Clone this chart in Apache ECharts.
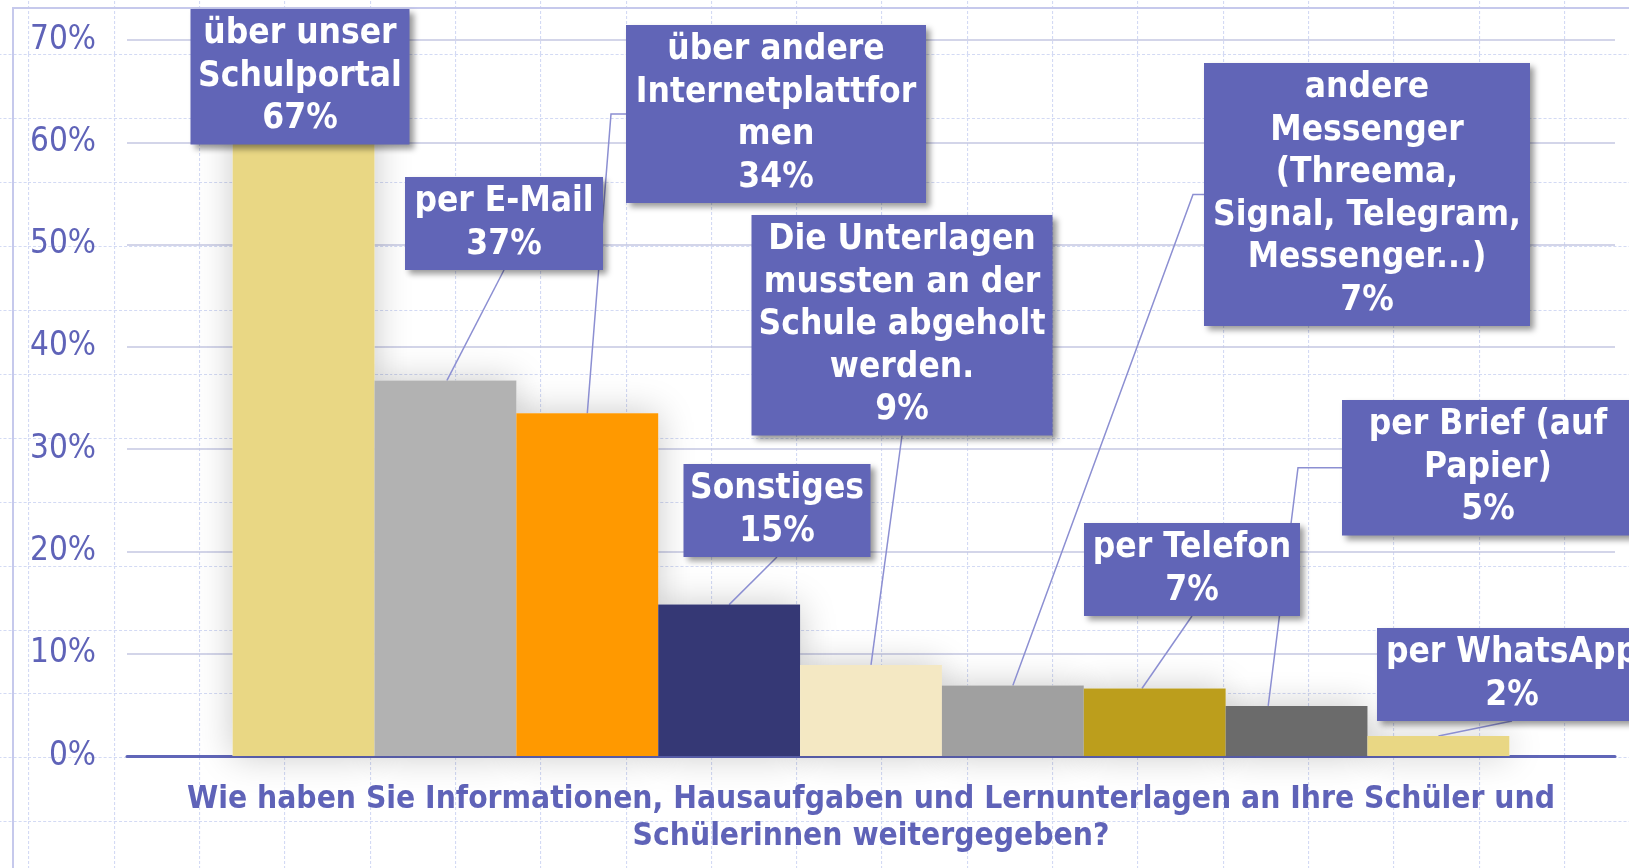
<!DOCTYPE html>
<html>
<head>
<meta charset="utf-8">
<script src="https://cdn.jsdelivr.net/npm/echarts@6/dist/echarts.min.js"></script>
<style>
html, body {
    margin: 0;
    padding: 0;
    width: 1629px;
    height: 868px;
    overflow: hidden;
    background-color: #ffffff;
}
.page {
    position: relative;
    width: 1629px;
    height: 868px;
    background-image: url("data:image/svg+xml;utf8,<svg xmlns='http://www.w3.org/2000/svg' width='85.3' height='63.9'><path d='M0 0.5 H85.3 M0.5 0 V63.9' stroke='%23d3daf4' stroke-width='1.2' stroke-dasharray='3 2' fill='none'/></svg>");
    background-size: 85.3px 63.9px;
    background-position: 28.5px 54.5px;
}
.frame {
    position: absolute;
    left: 12px;
    top: 7px;
    width: 1700px;
    height: 900px;
    border-left: 2px solid #c6c9ec;
    border-top: 2px solid #c6c9ec;
}
#chart {
    position: absolute;
    left: 0;
    top: 0;
    width: 1629px;
    height: 868px;
}
</style>
</head>
<body>
<div class="page">
    <div class="frame"></div>
    <div id="chart"></div>
</div>
<script>
// one category, one bar per answer
const categories = ['Wie haben Sie Informationen, Hausaufgaben und Lernunterlagen an Ihre Schüler und\nSchülerinnen weitergegeben?']
const seriesNames = [
    'über unser\nSchulportal',
    'per E-Mail',
    'über andere\nInternetplattfor\nmen',
    'Sonstiges',
    'Die Unterlagen\nmussten an der\nSchule abgeholt\nwerden.',
    'andere\nMessenger\n(Threema,\nSignal, Telegram,\nMessenger...)',
    'per Telefon',
    'per Brief (auf\nPapier)',
    'per WhatsApp'
]
const seriesValues = [0.67, 0.367, 0.335, 0.148, 0.089, 0.069, 0.066, 0.049, 0.0195]
const seriesColors = ['#e9d784', '#b2b2b2', '#ff9900', '#353875', '#f4e8c3', '#a0a0a0', '#bc9e1c', '#6b6b6b', '#e9d784']

// callout boxes: centre x, top y, box width, stub length
const labelBoxes = [
    [300, 9, 219, 0],
    [504, 177, 198, 0],
    [776, 25, 300, 15],
    [777, 464, 187, 0],
    [902, 215, 301, 0],
    [1367, 63, 326, 11],
    [1192, 523, 216, 0],
    [1488, 400, 292, 44],
    [1512, 628, 270, 0]
]
// leader line: where it leaves the bar top (share of bar width), which side of the box it enters
const connectors = [
    null,
    [0.51, 'bottom'],
    [0.5, 'left'],
    [0.5, 'bottom'],
    [0.5, 'bottom'],
    [0.5, 'left'],
    [0.41, 'bottom'],
    [0.3, 'left'],
    [0.5, 'bottom']
]

const fontName = '"DejaVu Sans Condensed", "DejaVu Sans", sans-serif'
const purple = '#5f63b8'
const boxLineHeight = 42.5
const boxPadV = 4

let chart = echarts.init(document.getElementById('chart'))

let series = []
// soft shadow layer behind all bars
for (let i = 0; i < seriesValues.length; i++) {
    series.push({
        type: 'bar',
        xAxisIndex: 1,
        silent: true,
        z: 1,
        barGap: '0%',
        barCategoryGap: '14.2%',
        data: [seriesValues[i]],
        itemStyle: {
            color: '#ffffff',
            shadowBlur: 34,
            shadowColor: 'rgba(0, 0, 0, 0.22)'
        }
    })
}
for (let i = 0; i < seriesValues.length; i++) {
    let box = labelBoxes[i]
    series.push({
        type: 'bar',
        name: seriesNames[i],
        xAxisIndex: 0,
        z: 3,
        barGap: '0%',
        barCategoryGap: '14.2%',
        data: [seriesValues[i]],
        itemStyle: {
            color: seriesColors[i]
        },
        label: {
            show: true,
            formatter: seriesNames[i] + '\n' + Math.round(seriesValues[i] * 100) + '%',
            color: '#ffffff',
            fontFamily: fontName,
            fontWeight: 'bold',
            fontSize: 35,
            lineHeight: boxLineHeight,
            align: 'center',
            width: box[2] - 12,
            padding: [boxPadV, 6],
            backgroundColor: '#6165b7',
            shadowColor: 'rgba(0, 0, 0, 0.4)',
            shadowBlur: 6,
            shadowOffsetX: 4,
            shadowOffsetY: 4
        },
        labelLayout: {
            x: box[0],
            y: box[1],
            align: 'center',
            verticalAlign: 'top'
        }
    })
}

let option = {
    animation: false,
    grid: {
        left: 127,
        right: 14,
        top: 40,
        bottom: 112
    },
    xAxis: [
        {
            type: 'category',
            data: categories,
            axisLine: {
                lineStyle: { color: '#6066b8', width: 3 }
            },
            axisTick: { show: false },
            axisLabel: {
                interval: 0,
                margin: 26,
                color: purple,
                fontFamily: fontName,
                fontWeight: 'bold',
                fontSize: 31.5,
                lineHeight: 36.5
            }
        },
        {
            type: 'category',
            data: categories,
            show: false
        }
    ],
    yAxis: {
        type: 'value',
        min: 0,
        max: 0.7,
        interval: 0.1,
        axisLine: { show: false },
        axisTick: { show: false },
        axisLabel: {
            margin: 31,
            padding: [9, 0, 0, 0],
            color: purple,
            fontFamily: fontName,
            fontSize: 33,
            formatter: (v) => Math.round(v * 100) + '%'
        },
        splitLine: {
            lineStyle: { color: '#c4c7e2', width: 1.5 }
        }
    },
    series: series
}
chart.setOption(option)

// leader lines from the bar tops (as laid out by echarts) to the callout boxes
let leaderLines = []
for (let i = 0; i < seriesValues.length; i++) {
    let conn = connectors[i]
    if (!conn) {
        continue
    }
    let layout = chart.getModel().getSeriesByIndex(seriesValues.length + i).getData().getItemLayout(0)
    let barX = layout.x + layout.width * conn[0]
    let barTop = Math.min(layout.y, layout.y + layout.height)
    let box = labelBoxes[i]
    let lineCount = seriesNames[i].split('\n').length + 1
    let boxH = lineCount * boxLineHeight + boxPadV * 2
    let points
    if (conn[1] === 'bottom') {
        points = [[barX, barTop], [box[0], box[1] + boxH]]
    } else {
        let midY = box[1] + boxH / 2
        let left = box[0] - box[2] / 2
        points = [[barX, barTop], [left - box[3], midY], [left, midY]]
    }
    leaderLines.push({
        type: 'polyline',
        z: 2,
        silent: true,
        shape: { points: points },
        style: { stroke: '#8c8fd2', lineWidth: 1.5, fill: null }
    })
}
chart.setOption({ graphic: leaderLines })
</script>
</body>
</html>
